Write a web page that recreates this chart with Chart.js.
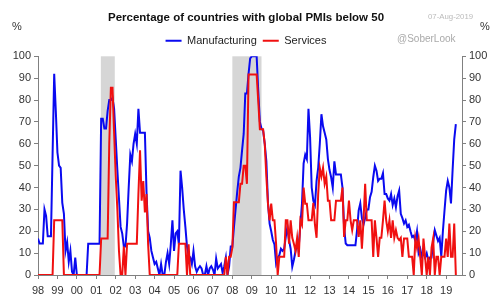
<!DOCTYPE html>
<html>
<head>
<meta charset="utf-8">
<script src="https://cdn.jsdelivr.net/npm/chart.js@4.4.1/dist/chart.umd.min.js"></script>
<style>
  body { margin: 0; background: #fff; }
  #wrap { position: relative; width: 492px; height: 295px; font-family: "Liberation Sans", Arial, sans-serif; }
  .note { position: absolute; white-space: nowrap; line-height: 1; }
</style>
</head>
<body>
<div id="wrap">
  <canvas id="pmiChart" width="492" height="295"></canvas>
  <div class="note" style="left:12px;top:21px;font-size:11px;color:#333;">%</div>
  <div class="note" style="left:480px;top:21px;font-size:11px;color:#333;">%</div>
  <div class="note" style="left:428px;top:13px;font-size:7.8px;color:#bbb;">07-Aug-2019</div>
  <div class="note" style="left:397px;top:34px;font-size:10px;color:#aaa;">@SoberLook</div>
</div>
<script>
// monthly, Jan 1998 .. Jul 2019
var yearLabels = ['98','99','00','01','02','03','04','05','06','07','08','09','10','11','12','13','14','15','16','17','18','19'];

var manufacturing = [
  16.7, 14.4, 14.4, 14.4, 30, 27, 17.7, 17.7, 17.7, 55, 92, 75,
  56, 50, 49, 33, 28, 11, 15, 6, 11, 1.5, 0, 8,
  0, 0, 0, 0, 0, 0, 0, 14.3, 14.3, 14.3, 14.3, 14.3,
  14.3, 14.3, 14.3, 71.4, 71.4, 67, 67, 75, 80, 80, 81, 76,
  62, 48, 35, 22, 19, 13, 13, 23.5, 40, 55, 52, 60,
  64.5, 60, 76, 65, 65, 65, 65, 38, 20, 17, 11, 8,
  5, 6, 3, 0, 5, 0, 0, 6, 10, 5, 14, 25,
  11, 19, 20, 14, 47.7, 40, 30, 22, 13, 9, 8, 5,
  11, 4, 1.5, 3, 4, 3, 0, 0, 4, 0, 3, 4,
  2.5, 0, 7.5, 3, 4, 5, 1, 4, 8, 0, 4, 13,
  13, 22, 30, 38, 45, 49, 57, 64.5, 83, 83, 92, 99,
  100, 100, 100, 100, 84, 70, 67, 66, 60, 52, 33, 23.5,
  20, 16, 14, 5.4, 8, 9, 12, 11, 12, 17.4, 22, 16,
  12, 3.8, 7, 11, 14, 13, 23, 32.7, 51, 55, 53, 76,
  63, 40, 34, 32, 43, 49, 60, 73.5, 68, 65, 62, 53,
  48, 44.7, 40, 52, 46, 46, 46, 46, 40, 22, 14.4, 13.6,
  13.6, 13.6, 13.6, 13.6, 13.6, 20.5, 29.5, 32.7, 26, 23, 26, 30,
  30, 35.6, 38, 44.7, 50, 47.7, 43, 44, 44, 46.5, 37, 37,
  35, 34, 37, 32, 35, 31, 36, 38.6, 28, 26, 23.5, 25,
  22, 23, 20, 17.4, 18, 15.6, 20, 10, 12, 8.5, 10, 8,
  10, 6.8, 8, 8, 15, 20.5, 18, 15.5, 17, 8.5, 20, 29.5,
  38.6, 43, 40, 32.7, 48, 62, 69
];

var services = [
  0, 0, 0, 0, 0, 0, 0, 0, 0, 0, 25, 25,
  25, 25, 25, 25, 0, 0, 0, 0, 0, 0, 0, 0,
  0, 0, 0, 0, 0, 0, 0, 0, 0, 0, 0, 0,
  0, 0, 0, 16.7, 16.7, 16.7, 16.7, 16.7, 60, 85.6, 85.6, 65,
  45, 30, 11, 0, 0, 13, 0, 14.3, 14.3, 14.3, 14.3, 14.3,
  14.3, 14.3, 37, 57, 34, 43, 28.6, 37, 14, 0, 0, 0,
  0, 0, 0, 0, 0, 0, 0, 0, 0, 0, 0, 0,
  0, 0, 0, 14.3, 14.3, 14.3, 14.3, 14.3, 0, 14, 0, 0,
  0, 0, 0, 0, 0, 0, 0, 0, 0, 0, 0, 0,
  0, 0, 0, 0, 0, 0, 0, 0, 8.3, 0, 8.3, 8.3,
  12.5, 33.3, 33.3, 33.3, 33.3, 41.7, 41.7, 50, 50, 41.7, 91.7, 91.7,
  91.7, 91.7, 91.7, 91.7, 79.5, 66.7, 66.7, 66.7, 60, 45, 32.6, 25,
  32.6, 25, 25, 14.4, 0, 8.3, 8.3, 8.3, 8.3, 25, 25, 14.3,
  25, 17, 14.3, 11, 17, 8.3, 25, 23, 40, 32.6, 32.6, 25,
  25, 25, 33, 23, 17, 37, 49, 45, 49, 41.7, 45, 34,
  34, 25, 25, 25, 34, 34, 34, 34, 40, 17.4, 25, 25,
  34, 25, 20.5, 25, 25, 25, 17.4, 25, 12, 25, 41.7, 25,
  25, 25, 25, 8.3, 25, 17, 8.3, 17, 17, 25, 34, 25,
  20, 25, 17, 25, 17, 20.5, 17, 16, 17, 8.3, 16.7, 16.7,
  16.7, 8.3, 8.3, 8.3, 0, 16.7, 12.5, 16.7, 8.3, 0, 16.7, 8.3,
  0, 8.3, 0, 12.5, 16.7, 0, 8.3, 8.3, 0, 8.3, 8.3, 8.3,
  16.7, 8.3, 23.5, 8.3, 8.3, 23.5, 0
];

// US recessions, in months since Jan 1998
var recessions = [[38.8, 47.4], [120, 138]];

function toPoints(arr) {
  return arr.map(function (v, i) { return { x: i, y: v }; });
}

var recessionBands = {
  id: 'recessionBands',
  beforeDatasetsDraw: function (chart) {
    var ctx = chart.ctx, xs = chart.scales.x, area = chart.chartArea;
    ctx.save();
    ctx.fillStyle = '#d6d6d6';
    recessions.forEach(function (r) {
      var x0 = xs.getPixelForValue(r[0]);
      var x1 = xs.getPixelForValue(r[1]);
      ctx.fillRect(x0, area.top, x1 - x0, area.bottom - area.top);
    });
    ctx.restore();
  }
};

var tickFont = { family: '"Liberation Sans", Arial, sans-serif', size: 11 };

new Chart('pmiChart', {
  type: 'line',
  data: {
    datasets: [
      {
        label: 'Manufacturing',
        data: toPoints(manufacturing),
        borderColor: '#0a0af0',
        backgroundColor: '#0a0af0',
        borderWidth: 2,
        pointRadius: 0,
        pointStyle: 'line',
        tension: 0,
        order: 1
      },
      {
        label: 'Services',
        data: toPoints(services),
        borderColor: '#f01010',
        backgroundColor: '#f01010',
        borderWidth: 2,
        pointRadius: 0,
        pointStyle: 'line',
        tension: 0,
        order: 0
      }
    ]
  },
  options: {
    responsive: false,
    animation: false,
    layout: { padding: { top: 4, left: 0, right: 0, bottom: 0 } },
    plugins: {
      title: {
        display: true,
        text: 'Percentage of countries with global PMIs below 50',
        color: '#111',
        font: { family: '"Liberation Sans", Arial, sans-serif', size: 11.5, weight: 'bold' },
        padding: { top: 7, bottom: 4.5 }
      },
      legend: {
        display: true,
        labels: {
          usePointStyle: true,
          pointStyleWidth: 16,
          color: '#222',
          font: tickFont,
          padding: 6,
          sort: function (a, b) { return a.datasetIndex - b.datasetIndex; }
        }
      },
      tooltip: { enabled: false }
    },
    scales: {
      x: {
        type: 'linear',
        min: 0,
        max: 261.8,
        afterFit: function (s) { s.height = 20; },
        afterBuildTicks: function (s) {
          s.ticks = yearLabels.map(function (l, k) { return { value: k * 12 }; });
        },
        ticks: {
          autoSkip: false,
          maxRotation: 0,
          padding: 5,
          color: '#333',
          font: tickFont,
          callback: function (v) { return yearLabels[Math.round(v / 12)]; }
        },
        grid: { drawOnChartArea: false, drawTicks: true, tickLength: 4, color: '#808080' },
        border: { color: '#808080' }
      },
      y: {
        position: 'left',
        min: 0,
        max: 100,
        afterFit: function (s) { s.width = 38; },
        ticks: { stepSize: 10, padding: 3, color: '#333', font: tickFont },
        grid: { drawOnChartArea: false, drawTicks: true, tickLength: 4, color: '#808080' },
        border: { color: '#808080' }
      },
      y2: {
        position: 'right',
        min: 0,
        max: 100,
        afterFit: function (s) { s.width = 30; },
        ticks: { stepSize: 10, padding: 3, color: '#333', font: tickFont },
        grid: { drawOnChartArea: false, drawTicks: true, tickLength: 4, color: '#808080' },
        border: { color: '#808080' }
      }
    }
  },
  plugins: [recessionBands]
});
</script>
</body>
</html>
